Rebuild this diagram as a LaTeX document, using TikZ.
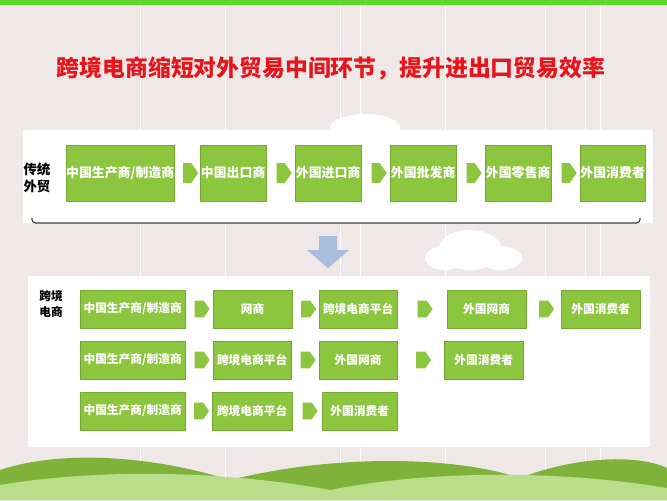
\documentclass[tikz,border=0pt]{standalone}
\usepackage{fontspec}
\newfontfamily\cjk{Noto Sans CJK SC}
\newcommand\cjkb{\cjk\bfseries}
\usetikzlibrary{calc,positioning,shapes.arrows}
\definecolor{bggrey}{HTML}{EFE8E6}
\definecolor{boxgreen}{HTML}{8CC63E}
\definecolor{titlered}{HTML}{E8141B}
\definecolor{downblue}{HTML}{A9BEDD}

\begin{document}
\begin{tikzpicture}[x=0.03cm,y=-0.03cm]
	\tikzset{
		stage/.style = {fill=boxgreen, draw=boxgreen!85!black, line width=0.3pt, text=white, inner sep=0pt, font=\cjkb\fontsize{10}{10}\selectfont},
		garrow/.style = {single arrow, fill=boxgreen, draw=none, minimum width=0.5cm, single arrow head extend=0pt, minimum height=0.45cm, inner sep=0pt, single arrow tip angle=110},
		panel/.style = {fill=white, draw=none}
	}
	% background
	\fill[bggrey] (0,0) rectangle (667,500);
	\fill[boxgreen!70!green] (0,0) rectangle (667,5);
	\foreach \x in {140,225,340,360,445,545,585,600} \draw[white, line width=0.6pt] (\x,5) -- (\x,500);
	\fill[boxgreen!90!black] (0,500) -- (0,470) .. controls (60,450) and (150,455) .. (230,480) .. controls (330,455) and (450,455) .. (520,478) .. controls (580,455) and (640,455) .. (667,468) -- (667,500) -- cycle;
	\fill[boxgreen!60!white] (0,500) -- (0,485) .. controls (120,465) and (250,475) .. (330,490) .. controls (430,470) and (560,470) .. (667,488) -- (667,500) -- cycle;

	% title
	\node[font=\cjkb\fontsize{19.5}{20}\selectfont, text=titlered] (title) at (331,68) {跨境电商缩短对外贸易中间环节，提升进出口贸易效率};

	% clouds
	\fill[white] (365,128) ellipse (35 and 14);
	\fill[white] (470,250) ellipse (32 and 20) (445,258) ellipse (20 and 12) (500,258) ellipse (22 and 12);

	% traditional panel
	\fill[panel] (23,130) rectangle (653,223);
	\draw[black!75, line width=1pt, rounded corners=3pt] (32,218) -- (32,223) -- (640,223) -- (640,218);
	\node[font=\cjkb\fontsize{11.5}{14}\selectfont, align=center] (trad) at (37,178) {传统\\外贸};
	\foreach \n/\a/\b/\t in {t1/66/171/{中国生产商/制造商}, t2/200/266/中国出口商, t3/295/361/外国进口商, t4/390/456/外国批发商, t5/485/551/外国零售商, t6/580/645/外国消费者}
		\node[stage, font=\cjkb\fontsize{11}{11}\selectfont, minimum width={(\b-\a)*0.03cm}, minimum height=1.68cm, anchor=west] (\n) at (\a,173) {\t};
	\foreach \p/\q in {t1/t2, t2/t3, t3/t4, t4/t5, t5/t6}
		\node[garrow, minimum width=0.6cm] at ($(\p.east)!0.5!(\q.west)$) {};

	% down arrow
	\fill[downblue] (319,236) -- (337,236) -- (337,250) -- (349,250) -- (328,268) -- (307,250) -- (319,250) -- cycle;
	\coordinate (down) at (328,252);

	% cross-border panel
	\fill[panel] (28,276) rectangle (650,447);
	\node[font=\cjkb\fontsize{10}{13}\selectfont, align=center] (cbec) at (51,304) {跨境\\电商};
	\foreach \n/\a/\b/\y/\t in {a1/80/185/309/{中国生产商/制造商}, a2/213/292/309/网商, a3/319/397/309/跨境电商平台, a4/447/526/309/外国网商, a5/561/640/309/外国消费者,
		b1/80/185/360/{中国生产商/制造商}, b2/213/291/360/跨境电商平台, b3/319/397/360/外国网商, b4/444/523/360/外国消费者,
		c1/80/185/411/{中国生产商/制造商}, c2/212/292/411/跨境电商平台, c3/322/397/411/外国消费者}
		\node[stage, minimum width={(\b-\a)*0.03cm}, minimum height=1.14cm, anchor=west] (\n) at (\a,\y) {\t};
	\foreach \p/\q in {a1/a2, a2/a3, a3/a4, a4/a5, b1/b2, b2/b3, b3/b4, c1/c2, c2/c3}
		\node[garrow] at ($(\p.east)!0.5!(\q.west)$) {};
\end{tikzpicture}
\end{document}
